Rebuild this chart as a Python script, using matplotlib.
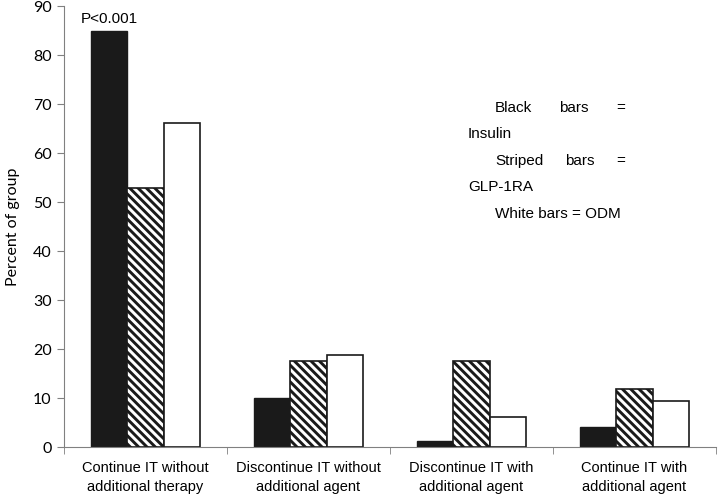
import numpy as np
import matplotlib
matplotlib.use('Agg')
import matplotlib.pyplot as plt

categories = ['Continue IT without\nadditional therapy',
              'Discontinue IT without\nadditional agent',
              'Discontinue IT with\nadditional agent',
              'Continue IT with\nadditional agent']
insulin = [85.0, 10.1, 1.2, 4.1]
glp1ra = [53.0, 17.6, 17.6, 11.8]
odm = [66.1, 18.8, 6.1, 9.4]
yticks = list(range(0, 91, 10))

plt.rcParams['hatch.linewidth'] = 2.1
plt.rcParams['font.family'] = 'Liberation Sans'

fig = plt.figure(figsize=(7.21, 4.94), dpi=100)
ax = fig.add_axes([64/721, 1-447/494, (716-64)/721, (447-6.4)/494])

x = np.arange(len(categories))
w = 0.224
ax.bar(x - w, insulin, w, color='#1a1a1a', edgecolor='#1a1a1a', linewidth=1.0)
ax.bar(x, glp1ra, w, color='white', edgecolor='#1a1a1a', hatch='\\\\\\\\', linewidth=1.2)
ax.bar(x + w, odm, w, color='white', edgecolor='#1a1a1a', linewidth=1.2)

ax.set_xlim(-0.5, 3.5)
ax.set_ylim(0, 90)
ax.set_yticks(yticks)
ax.set_yticklabels([str(t) for t in yticks], fontfamily='Lato', fontsize=11.5)
ax.set_xticks(x)
ax.set_xticklabels(categories, fontsize=10.5, linespacing=1.5)
ax.set_xticks(np.arange(-0.5, 4.0, 1.0), minor=True)
ax.tick_params(axis='x', which='major', length=0, pad=10)
ax.tick_params(axis='x', which='minor', length=5, color='#808080')
ax.tick_params(axis='y', length=5, color='#808080', pad=4)
for s in ['top', 'right']:
    ax.spines[s].set_visible(False)
for s in ['left', 'bottom']:
    ax.spines[s].set_color('#808080')
ax.set_ylabel('Percent of group', fontfamily='Lato', fontsize=11.5, labelpad=9)

ax.text(x[0] - w, insulin[0] + 1.0, 'P<0.001', ha='center', va='bottom', fontsize=11)

# legend text, laid out like the justified text box in the original
def ftext(px, py, s):
    fig.text(px/721, 1-py/494, s, ha='left', va='center', fontsize=11)

ftext(495, 108, 'Black')
ftext(559, 108, 'bars')
ftext(616, 108, '=')
ftext(468, 134, 'Insulin')
ftext(495, 161, 'Striped')
ftext(565, 161, 'bars')
ftext(616, 161, '=')
ftext(468, 187, 'GLP-1RA')
ftext(495, 214, 'White bars = ODM')

plt.savefig('out.png', dpi=100)
